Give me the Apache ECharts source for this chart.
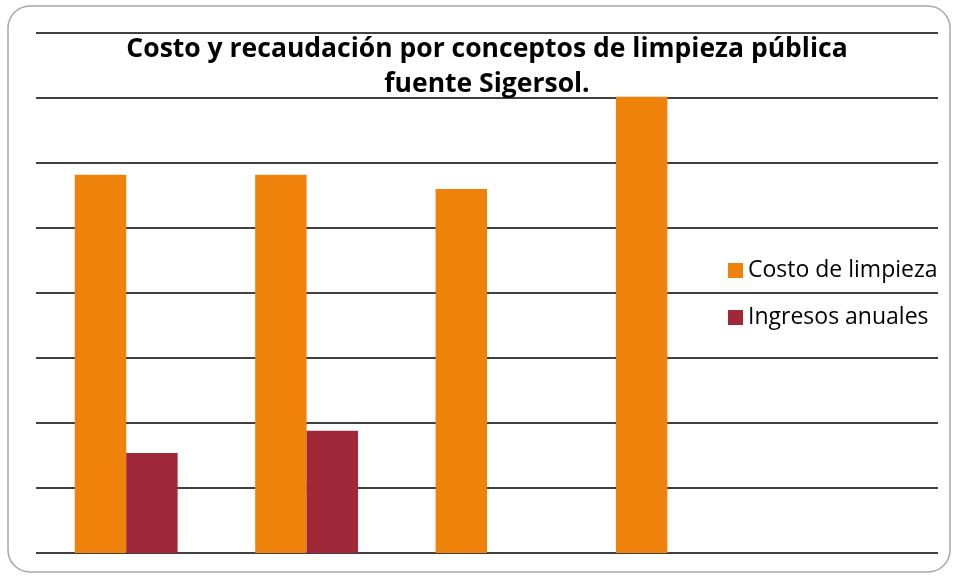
<!DOCTYPE html>
<html>
<head>
<meta charset="utf-8">
<script src="https://cdn.jsdelivr.net/npm/echarts@6/dist/echarts.min.js"></script>
<style>
  html, body { margin: 0; padding: 0; background: #fff; }
  #chart { width: 957px; height: 577px; }
</style>
</head>
<body>
<div id="chart"></div>
<script>
// values (no axis labels shown, scale 0..8)
var categorias = ['1', '2', '3', '4', '5'];
var costoLimpieza = [5.82, 5.82, 5.6, 7.02, '-'];
var ingresosAnuales = [1.54, 1.88, '-', '-', '-'];

var myChart = echarts.init(document.getElementById('chart'));

var option = {
  backgroundColor: '#fff',
  title: {
    text: 'Costo y recaudación por conceptos de limpieza pública\nfuente Sigersol.',
    left: 482,
    top: 27,
    textAlign: 'center',
    textStyle: {
      fontFamily: 'Open Sans',
      fontWeight: 'bold',
      fontSize: 26.5,
      lineHeight: 35,
      color: '#000'
    }
  },
  legend: {
    orient: 'vertical',
    left: 723,
    top: 254,
    icon: 'rect',
    itemWidth: 15,
    itemHeight: 15,
    itemGap: 24,
    textStyle: { fontFamily: 'Open Sans', fontSize: 23, color: '#000' },
    data: ['Costo de limpieza', 'Ingresos anuales']
  },
  grid: { left: 36, right: 19, top: 33, bottom: 24 },
  xAxis: {
    type: 'category',
    data: categorias,
    axisLine: { show: false },
    axisTick: { show: false },
    axisLabel: { show: false }
  },
  yAxis: {
    type: 'value',
    min: 0,
    max: 8,
    interval: 1,
    axisLabel: { show: false },
    axisLine: { show: false },
    axisTick: { show: false },
    splitLine: { lineStyle: { color: '#000', width: 1.5 } }
  },
  series: [
    {
      name: 'Costo de limpieza',
      type: 'bar',
      data: costoLimpieza,
      barGap: '0%',
      barCategoryGap: '43%',
      itemStyle: { color: '#EE820A' }
    },
    {
      name: 'Ingresos anuales',
      type: 'bar',
      data: ingresosAnuales,
      itemStyle: { color: '#A02838' }
    }
  ],
  graphic: [{
    type: 'rect',
    shape: { x: 8, y: 6, width: 942, height: 566, r: 22 },
    style: { fill: 'none', stroke: '#a8a8a8', lineWidth: 1.5 },
    silent: true
  }]
};

myChart.setOption(option);
</script>
</body>
</html>
